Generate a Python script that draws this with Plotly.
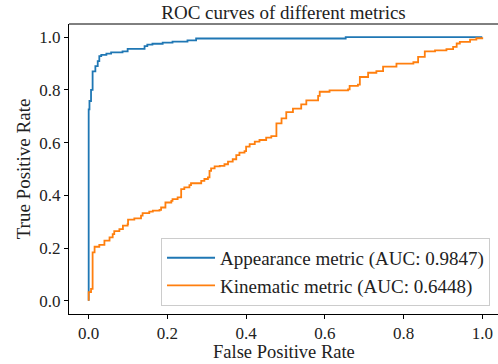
import plotly.graph_objects as go

# Appearance metric ROC (step corners: fpr, tpr after rise)
app_fpr = [0.0, 0.0, 0.002, 0.006, 0.010, 0.017, 0.023, 0.027, 0.032, 0.045, 0.057,
           0.086, 0.099, 0.142, 0.149, 0.162, 0.188, 0.213, 0.251, 0.273, 0.653, 1.0]
app_tpr = [0.0, 0.726, 0.758, 0.800, 0.870, 0.890, 0.909, 0.928, 0.933, 0.938, 0.942,
           0.946, 0.956, 0.966, 0.972, 0.975, 0.979, 0.983, 0.988, 0.995, 1.0, 1.0]

# Kinematic metric ROC
kin_fpr = [0.0, 0.0, 0.006, 0.010, 0.015, 0.027, 0.040, 0.053, 0.061, 0.065, 0.078,
           0.087, 0.099, 0.100, 0.116, 0.133, 0.137, 0.154, 0.163, 0.180, 0.184, 0.195,
           0.210, 0.213, 0.226, 0.235, 0.243, 0.256, 0.260, 0.286, 0.294, 0.303, 0.307,
           0.311, 0.320, 0.333, 0.345, 0.354, 0.366, 0.375, 0.383, 0.396, 0.400, 0.409,
           0.422, 0.434, 0.451, 0.464, 0.477, 0.490, 0.502, 0.519, 0.540, 0.553, 0.583,
           0.587, 0.612, 0.659, 0.663, 0.684, 0.689, 0.710, 0.731, 0.748, 0.782, 0.825,
           0.837, 0.854, 0.880, 0.909, 0.926, 0.935, 0.943, 0.969, 0.985, 1.0]
kin_tpr = [0.0, 0.033, 0.045, 0.184, 0.205, 0.212, 0.228, 0.241, 0.253, 0.264, 0.272,
           0.285, 0.291, 0.308, 0.313, 0.323, 0.333, 0.338, 0.342, 0.345, 0.354, 0.373,
           0.379, 0.386, 0.392, 0.424, 0.430, 0.439, 0.446, 0.455, 0.462, 0.468, 0.493,
           0.502, 0.510, 0.512, 0.518, 0.528, 0.537, 0.553, 0.562, 0.568, 0.585, 0.594,
           0.604, 0.610, 0.619, 0.625, 0.673, 0.692, 0.716, 0.729, 0.745, 0.760, 0.777,
           0.793, 0.798, 0.802, 0.815, 0.820, 0.849, 0.865, 0.871, 0.888, 0.900, 0.905,
           0.925, 0.946, 0.950, 0.955, 0.963, 0.976, 0.982, 0.991, 0.996, 1.0]

tick_vals = [0.0, 0.2, 0.4, 0.6, 0.8, 1.0]
tick_text = ["0.0", "0.2", "0.4", "0.6", "0.8", "1.0"]

FONT = "Liberation Serif"

fig = go.Figure()
fig.add_trace(go.Scatter(x=app_fpr, y=app_tpr, mode="lines", line_shape="hv",
                         line=dict(color="#1f77b4", width=1.8),
                         name="Appearance metric (AUC: 0.9847)"))
fig.add_trace(go.Scatter(x=kin_fpr, y=kin_tpr, mode="lines", line_shape="hv",
                         line=dict(color="#ff7f0e", width=1.8),
                         name="Kinematic metric (AUC: 0.6448)"))

axis_common = dict(showgrid=False, zeroline=False, showline=True, linecolor="black",
                   linewidth=1, ticks="outside", ticklen=4, tickcolor="black",
                   tickwidth=1, tickvals=tick_vals, ticktext=tick_text,
                   tickfont=dict(family=FONT, size=17, color="#222"))

fig.update_layout(
    width=498, height=364,
    margin=dict(l=69, r=0, t=24, b=50),
    paper_bgcolor="white", plot_bgcolor="white",
    font=dict(family=FONT, size=18, color="#222"),
    title=dict(text="ROC curves of different metrics", x=0.5, xref="paper",
               xanchor="center", y=0.967, yref="container", yanchor="middle",
               font=dict(family=FONT, size=19, color="#222")),
    xaxis=dict(range=[-0.05, 1.04], **axis_common),
    yaxis=dict(range=[-0.05, 1.05], title=dict(text="True Positive Rate", standoff=3,
               font=dict(family=FONT, size=19)), **axis_common),
    legend=dict(x=0.2145, y=0.028, xanchor="left", yanchor="bottom",
                bgcolor="rgba(255,255,255,0.8)", bordercolor="#cccccc", borderwidth=1,
                itemwidth=48,
                font=dict(family=FONT, size=19, color="#222")),
    shapes=[dict(type="line", xref="paper", yref="paper", x0=0, x1=1, y0=1, y1=1,
                 line=dict(color="black", width=1))],
    annotations=[dict(text="False Positive Rate", xref="paper", yref="paper",
                      x=0.5, y=0, yshift=-38, xanchor="center", yanchor="middle",
                      showarrow=False, font=dict(family=FONT, size=18.5, color="#222"))],
)

fig.write_html("out.html")
